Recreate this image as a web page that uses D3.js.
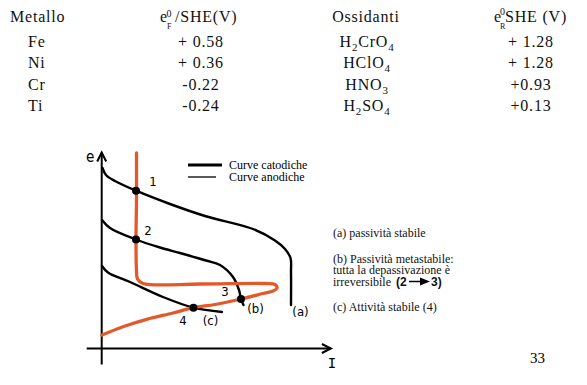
<!DOCTYPE html>
<html>
<head>
<meta charset="utf-8">
<script src="https://cdn.jsdelivr.net/npm/d3@7"></script>
<style>
  body { margin: 0; background: #fff; }
  svg { display: block; background: #fff; }
</style>
</head>
<body>
<div id="chart"></div>
<script>
// table values
const metals = ['Fe', 'Ni', 'Cr', 'Ti'];
const eMetal = ['+ 0.58', '+ 0.36', '-0.22', '-0.24'];
const oxidants = ['H2CrO4', 'HClO4', 'HNO3', 'H2SO4'];
const eOxidant = ['+ 1.28', '+ 1.28', '+0.93', '+0.13'];

// cathodic curves, current I vs potential e (arbitrary units)
const curveA_I = [0.4, 2.15, 6.65, 17.15, 34.15, 51.65, 75.65, 86.65, 91.65, 94.4, 94.65, 94.65];
const curveA_e = [90.25, 86.75, 83.75, 78.9, 72.25, 66.25, 59.75, 54, 49.75, 45.25, 38.25, 21.75];
const curveB_I = [0.15, 4.15, 17.15, 29.15, 39.15, 52.15, 59.15, 65.65, 68.65, 69.65, 70.9];
const curveB_e = [64.25, 60.25, 54.5, 50.5, 47.75, 44, 41.75, 35.75, 29.25, 24.75, 21.75];
const curveC_I = [0.15, 3.15, 14.15, 30.65, 45.9, 60.15];
const curveC_e = [41.25, 38, 33.25, 25.75, 20.4, 18.25];

// anodic curve
const anodic_I = [17.4, 17.4, 17.15, 17.4, 17.9, 20.65, 49.15, 81.65, 86.65, 87.65, 85.65, 80.65, 69.65, 56.65, 45.9, 35.65, 22.5, 10.65, 0.15];
const anodic_e = [97.75, 74.25, 54.25, 39.25, 34.75, 32.5, 32.25, 32.5, 32, 30.25, 28.75, 27.5, 24.75, 22, 20.4, 17.75, 14.6, 10.9, 6.75];

// intersections
const crossLabels = ['1', '2', '3', '4'];
const cross_I = [17.15, 17.15, 69.65, 45.9];
const cross_e = [78.9, 54.5, 24.75, 20.4];

const width = 587;
const height = 385;
const orange = '#e4592a';

const svg = d3.select('#chart')
  .append('svg')
  .attr('width', width)
  .attr('height', height)

const x = d3.scaleLinear().domain([0, 100]).range([101.7, 301.7]);
const y = d3.scaleLinear().domain([0, 100]).range([348.5, 148.5]);

// ---- table ----
const serif = '"Liberation Serif", "Times New Roman", serif';
const rowY = [46.5, 68, 89.5, 111];

const table = svg.append('g')
  .style('font-family', serif)
  .style('font-size', '16px')
  .style('letter-spacing', '0.8px')
  .attr('fill', '#111')

table.append('text').attr('x', 10).attr('y', 22).text('Metallo')

let h2 = table.append('g')
h2.append('text').attr('x', 160).attr('y', 22).text('e')
h2.append('text').attr('x', 166.5).attr('y', 16.5).style('font-size', '10px').text('0')
h2.append('text').attr('x', 167).attr('y', 28.5).style('font-size', '8px').text('F')
h2.append('text').attr('x', 175).attr('y', 22).text('/SHE(V)')

table.append('text').attr('x', 366).attr('y', 22).attr('text-anchor', 'middle').text('Ossidanti')

let h4 = table.append('g')
h4.append('text').attr('x', 494).attr('y', 22).text('e')
h4.append('text').attr('x', 500).attr('y', 15).style('font-size', '10px').text('0')
h4.append('text').attr('x', 500).attr('y', 28.5).style('font-size', '8px').text('R')
h4.append('text').attr('x', 505).attr('y', 22).text('SHE (V)')

table.selectAll('.metal')
  .data(metals)
  .enter()
  .append('text')
  .attr('class', 'metal')
  .attr('x', 28)
  .attr('y', (d, i) => rowY[i])
  .text(d => d)

table.selectAll('.emetal')
  .data(eMetal)
  .enter()
  .append('text')
  .attr('class', 'emetal')
  .attr('x', 201)
  .attr('y', (d, i) => rowY[i])
  .attr('text-anchor', 'middle')
  .text(d => d)

table.selectAll('.ox')
  .data(oxidants)
  .enter()
  .append('text')
  .attr('class', 'ox')
  .attr('x', 367)
  .attr('y', (d, i) => rowY[i])
  .attr('text-anchor', 'middle')
  .each(function(d) {
    const t = d3.select(this);
    let shift = 0;
    d.match(/[A-Za-z]+|\d+/g).forEach(part => {
      const isSub = /\d/.test(part);
      const target = isSub ? 4 : 0;
      t.append('tspan')
        .attr('dy', target - shift)
        .style('font-size', isSub ? '11px' : null)
        .text(part);
      shift = target;
    });
  })

table.selectAll('.eox')
  .data(eOxidant)
  .enter()
  .append('text')
  .attr('class', 'eox')
  .attr('x', 531)
  .attr('y', (d, i) => rowY[i])
  .attr('text-anchor', 'middle')
  .text(d => d)

// ---- diagram ----
const line = d3.line()
  .x(d => x(d[0]))
  .y(d => y(d[1]))
  .curve(d3.curveCatmullRom.alpha(0.5));

const zip = (a, b) => a.map((v, i) => [v, b[i]]);

// axes
const axes = svg.append('g')
  .attr('stroke', '#000')
  .attr('stroke-width', 2)
  .attr('fill', 'none')

axes.append('line')
  .attr('x1', x(0)).attr('x2', x(0))
  .attr('y1', y(-8)).attr('y2', y(98))
axes.append('path')
  .attr('d', `M${x(0) - 4.5},${y(98) + 9} L${x(0)},${y(98)} L${x(0) + 4.5},${y(98) + 9}`)

axes.append('line')
  .attr('x1', x(-7.5)).attr('x2', x(114.6))
  .attr('y1', y(0)).attr('y2', y(0))
axes.append('path')
  .attr('d', `M${x(114.6) - 9},${y(0) - 4.5} L${x(114.6)},${y(0)} L${x(114.6) - 9},${y(0) + 4.5}`)

const sans = '"DejaVu Sans Condensed", "DejaVu Sans", sans-serif';

svg.append('text')
  .attr('x', 86).attr('y', 162)
  .style('font-family', sans).style('font-size', '15px')
  .text('e')

svg.append('text')
  .attr('x', 332).attr('y', 368)
  .attr('text-anchor', 'middle')
  .style('font-family', '"DejaVu Sans Mono", monospace').style('font-size', '14px')
  .text('I')

// curves
const curves = [
  { id: 'a', pts: zip(curveA_I, curveA_e), dx: 9.5, dy: 11 },
  { id: 'b', pts: zip(curveB_I, curveB_e), dx: 12, dy: 7.5 },
  { id: 'c', pts: zip(curveC_I, curveC_e), dx: -11.5, dy: 12.5 }
];

svg.selectAll('.cathodic')
  .data(curves)
  .enter()
  .append('path')
  .attr('class', 'cathodic')
  .attr('d', d => line(d.pts))
  .attr('fill', 'none')
  .attr('stroke', '#000')
  .attr('stroke-width', 2.4)
  .attr('stroke-linecap', 'round')

svg.append('path')
  .attr('d', line(zip(anodic_I, anodic_e)))
  .attr('fill', 'none')
  .attr('stroke', orange)
  .attr('stroke-width', 3.3)
  .attr('stroke-linecap', 'round')
  .attr('stroke-linejoin', 'round')

svg.selectAll('.curvelabel')
  .data(curves)
  .enter()
  .append('text')
  .attr('class', 'curvelabel')
  .attr('x', d => x(d.pts[d.pts.length - 1][0]) + d.dx)
  .attr('y', d => y(d.pts[d.pts.length - 1][1]) + d.dy)
  .attr('text-anchor', 'middle')
  .style('font-family', sans)
  .style('font-size', '13px')
  .text(d => `(${d.id})`)

// intersection points
const crossOff = [[17, -4.5], [12, -5], [-16, -3], [-10.5, 17]];

svg.selectAll('.dot')
  .data(crossLabels)
  .enter()
  .append('circle')
  .attr('class', 'dot')
  .attr('cx', (d, i) => x(cross_I[i]))
  .attr('cy', (d, i) => y(cross_e[i]))
  .attr('r', 4)
  .attr('fill', '#000')

svg.selectAll('.crosslabel')
  .data(crossLabels)
  .enter()
  .append('text')
  .attr('class', 'crosslabel')
  .attr('x', (d, i) => x(cross_I[i]) + crossOff[i][0])
  .attr('y', (d, i) => y(cross_e[i]) + crossOff[i][1])
  .attr('text-anchor', 'middle')
  .style('font-family', sans)
  .style('font-size', '13px')
  .text(d => d)

// legend
const legend = svg.append('g')
legend.append('line')
  .attr('x1', 188).attr('x2', 222).attr('y1', 165).attr('y2', 165)
  .attr('stroke', '#000').attr('stroke-width', 3)
legend.append('line')
  .attr('x1', 188).attr('x2', 216).attr('y1', 177).attr('y2', 177)
  .attr('stroke', '#000').attr('stroke-width', 1.3)
legend.append('text')
  .attr('x', 229).attr('y', 169)
  .style('font-family', serif).style('font-size', '12px')
  .text('Curve catodiche')
legend.append('text')
  .attr('x', 229).attr('y', 180.5)
  .style('font-family', serif).style('font-size', '12px')
  .text('Curve anodiche')

// notes
const notes = svg.append('g')
  .style('font-family', serif)
  .style('font-size', '12px')
  .attr('fill', '#111')

notes.append('text').attr('x', 333).attr('y', 236.5).text('(a) passività stabile')
notes.append('text').attr('x', 333).attr('y', 262.5).text('(b) Passività metastabile:')
notes.append('text').attr('x', 333).attr('y', 274).text('tutta la depassivazione è')
notes.append('text').attr('x', 333).attr('y', 285.5).text('irreversibile')
notes.append('text').attr('x', 396).attr('y', 285.5)
  .style('font-family', '"Liberation Sans", Arial, sans-serif').style('font-weight', 'bold')
  .text('(2')
notes.append('line')
  .attr('x1', 409).attr('x2', 423).attr('y1', 281.5).attr('y2', 281.5)
  .attr('stroke', '#000').attr('stroke-width', 1.5)
notes.append('path')
  .attr('d', 'M420,277.5 L430,281.5 L420,285.5 Z')
  .attr('fill', '#000')
notes.append('text').attr('x', 431).attr('y', 285.5)
  .style('font-family', '"Liberation Sans", Arial, sans-serif').style('font-weight', 'bold')
  .text('3)')
notes.append('text').attr('x', 333).attr('y', 310.5).text('(c) Attività stabile (4)')

svg.append('text')
  .attr('x', 530).attr('y', 363)
  .style('font-family', serif).style('font-size', '15px')
  .text('33')
</script>
</body>
</html>
